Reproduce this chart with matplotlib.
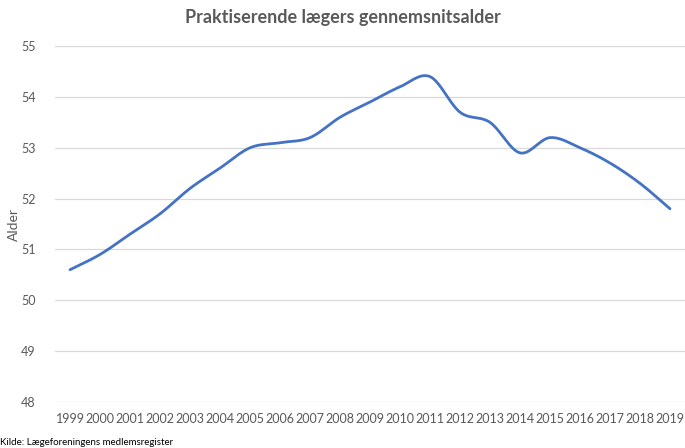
import matplotlib
matplotlib.use("Agg")
import matplotlib.pyplot as plt
import numpy as np

# data
years = [str(y) for y in range(1999, 2020)]
alder = [50.6, 50.9, 51.3, 51.7, 52.2, 52.6, 53.0, 53.1, 53.2, 53.6, 53.9,
         54.2, 54.4, 53.7, 53.5, 52.9, 53.2, 53.0, 52.7, 52.3, 51.8]
y_ticks = [48, 49, 50, 51, 52, 53, 54, 55]


def smooth(x, y, n=20):
    # Catmull-Rom style smoothing like Excel's smoothed line
    x = np.asarray(x, float)
    y = np.asarray(y, float)
    px = np.concatenate([[2 * x[0] - x[1]], x, [2 * x[-1] - x[-2]]])
    py = np.concatenate([[2 * y[0] - y[1]], y, [2 * y[-1] - y[-2]]])
    xs, ys = [], []
    t = np.linspace(0, 1, n, endpoint=False)
    for i in range(1, len(px) - 2):
        for p, out in ((px, xs), (py, ys)):
            p0, p1, p2, p3 = p[i - 1], p[i], p[i + 1], p[i + 2]
            out.extend(0.5 * ((2 * p1) + (-p0 + p2) * t
                              + (2 * p0 - 5 * p1 + 4 * p2 - p3) * t ** 2
                              + (-p0 + 3 * p1 - 3 * p2 + p3) * t ** 3))
    xs.append(x[-1])
    ys.append(y[-1])
    return np.array(xs), np.array(ys)


plt.rcParams['font.family'] = ['Lato', 'DejaVu Sans']
grey = '#595959'

fig = plt.figure(figsize=(6.85, 4.48), dpi=100)
ax = fig.add_axes([55 / 685, 0.103, 1 - 55 / 685, 0.794])

xs, ys = smooth(range(len(years)), alder)
ax.plot(xs, ys, color='#4472C4', lw=2.0, solid_capstyle='round')

ax.set_xlim(-0.5, len(years) - 0.5)
ax.set_ylim(48, 55)
ax.set_yticks(y_ticks)
ax.set_xticks(range(len(years)))
ax.set_xticklabels(years)
ax.grid(axis='y', color='#d9d9d9', lw=0.9)
ax.set_axisbelow(True)
for s in ax.spines.values():
    s.set_visible(False)
ax.tick_params(length=0, colors=grey, labelsize=9)
ax.tick_params(axis='y', pad=14)
ax.tick_params(axis='x', pad=8)

ax.set_ylabel('Alder', color=grey, fontsize=10, labelpad=1)
fig.text(0.5, 0.96, 'Praktiserende lægers gennemsnitsalder', ha='center', va='center',
         fontsize=13, fontweight='bold', color=grey)
fig.text(0.0, 0.013, 'Kilde: Lægeforeningens medlemsregister', ha='left', va='center',
         fontsize=7, color='black')

fig.savefig('out.png', dpi=100)
